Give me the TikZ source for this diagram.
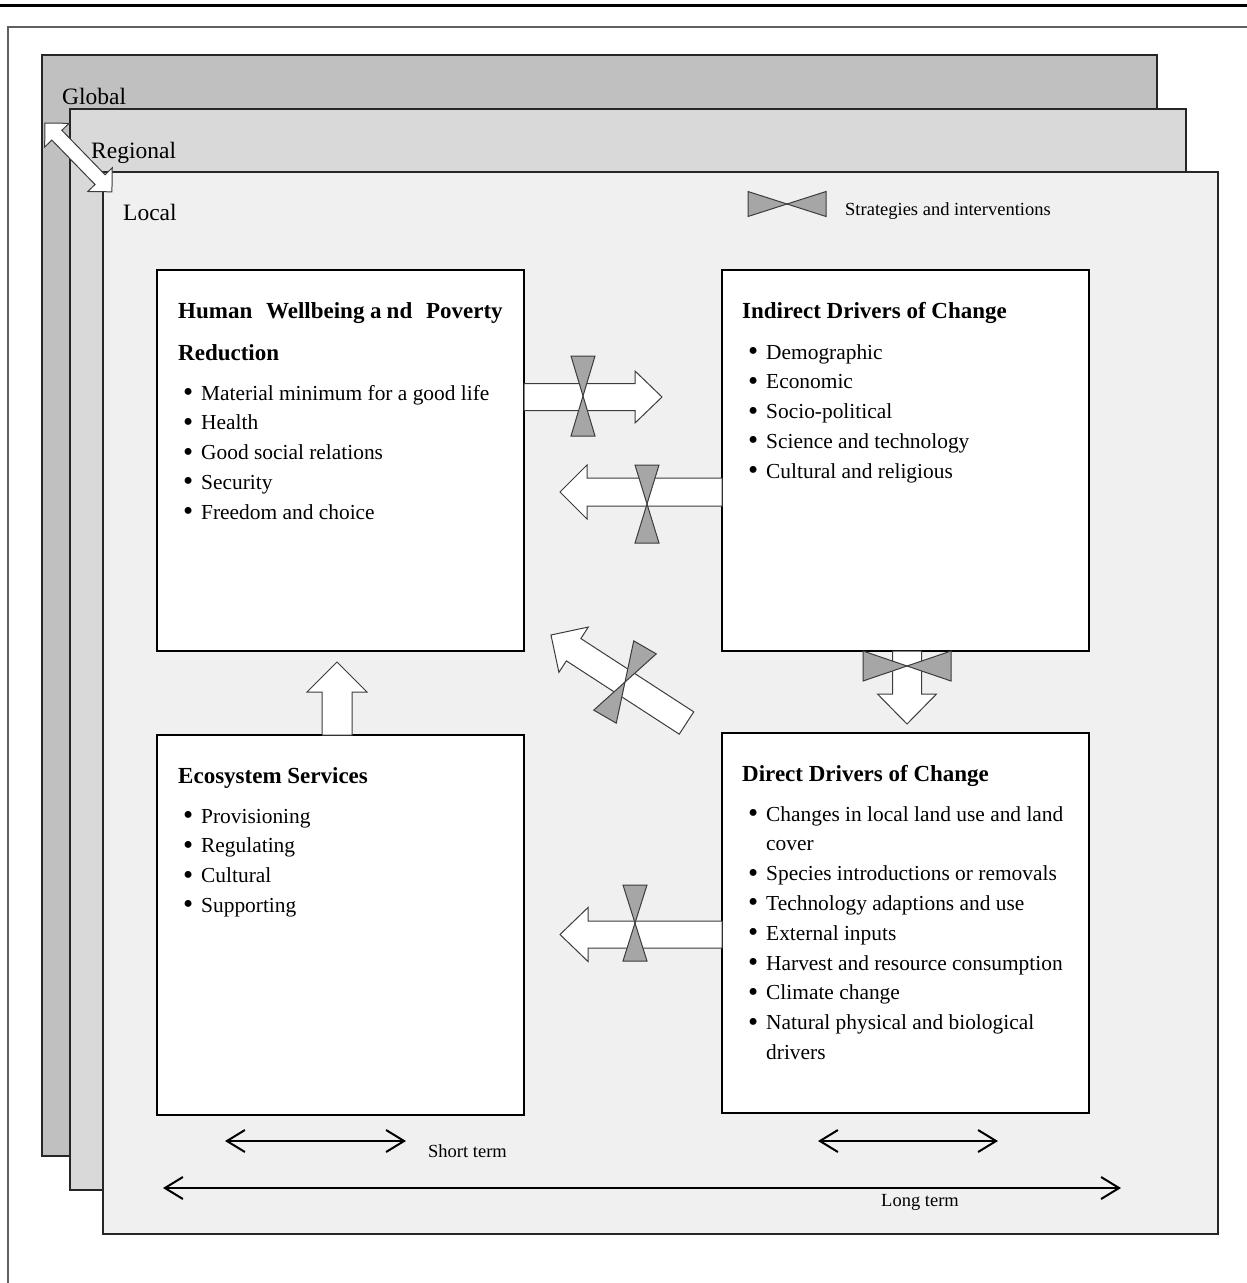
\documentclass[tikz,border=0pt]{standalone}
\usepackage{fontspec}
\usepackage{graphicx}
\setmainfont{Liberation Serif}
\usetikzlibrary{arrows.meta,calc}
\definecolor{globalfill}{RGB}{192,192,192}
\definecolor{regionalfill}{RGB}{217,217,217}
\definecolor{localfill}{RGB}{240,240,240}
\definecolor{tiefill}{RGB}{166,166,166}
\definecolor{framegray}{RGB}{96,96,96}
\definecolor{edgegray}{RGB}{60,60,60}
\newcommand\bodyfont{\fontsize{21.4}{29.8}\selectfont}
\newcommand\titlefont{\fontsize{23}{42}\selectfont\bfseries}
\newcommand\layerfont{\fontsize{23.5}{28}\selectfont}
\newcommand\smallfont{\fontsize{18.5}{22}\selectfont}
\newcommand\blt{\raisebox{-0.07em}{\scalebox{1.35}{\textbullet}}}
% block arrow: start, angle, length, shaft half width, head half width, head length
\newcommand\blockarrow[6]{%
  \begin{scope}[shift={#1},rotate=#2]
    \draw[blockarrowstyle] (0,-#4) -- ({#3-#6},-#4) -- ({#3-#6},-#5) -- (#3,0)
      -- ({#3-#6},#5) -- ({#3-#6},#4) -- (0,#4) -- cycle;
  \end{scope}}
% double block arrow
\newcommand\dblockarrow[6]{%
  \begin{scope}[shift={#1},rotate=#2]
    \draw[blockarrowstyle] (0,0) -- (#6,-#5) -- (#6,-#4) -- ({#3-#6},-#4) -- ({#3-#6},-#5)
      -- (#3,0) -- ({#3-#6},#5) -- ({#3-#6},#4) -- (#6,#4) -- (#6,#5) -- cycle;
  \end{scope}}
% strategies bow tie: centre, axis angle, half length, half base
\newcommand\stratbowtie[4]{%
  \begin{scope}[shift={#1},rotate=#2]
    \draw[tiestyle] (0,0) -- (#3,-#4) -- (#3,#4) -- cycle;
    \draw[tiestyle] (0,0) -- (-#3,-#4) -- (-#3,#4) -- cycle;
  \end{scope}}
\tikzset{
  blockarrowstyle/.style={draw=edgegray, fill=white, line width=1pt, line join=miter},
  tiestyle/.style={draw=edgegray, fill=tiefill, line width=1pt, line join=miter},
  layer/.style={draw=black!85, line width=1.3pt},
  box/.style={draw=black, line width=1.4pt, fill=white, inner sep=0pt, outer sep=0pt},
  titletext/.style={anchor=base west, inner sep=0pt, font=\titlefont},
  listtext/.style={anchor=base west, inner sep=0pt, font=\bodyfont},
  layertext/.style={anchor=base west, inner sep=0pt, font=\layerfont},
  smalltext/.style={inner sep=0pt, font=\smallfont},
  timearrow/.style={line width=2pt, {Straight Barb[length=18pt,width=22pt]}-{Straight Barb[length=18pt,width=22pt]}},
}
\begin{document}
\begin{tikzpicture}[x=1pt,y=-1pt]
\useasboundingbox (0,0) rectangle (1247,1283);
% page rules
\draw[line width=3pt] (0,5.5) -- (1247,5.5);
\draw[framegray, line width=2pt] (8,1283) -- (8,27) -- (1247,27);
% layers
\draw[layer, fill=globalfill] (42,55) rectangle (1157,1156);
\draw[layer, fill=regionalfill] (70,109) rectangle (1186,1190);
\draw[layer, fill=localfill] (103,172) rectangle (1218,1234);
\node[layertext] (lglobal) at (62,104) {Global};
\node[layertext] (lregional) at (91,158) {Regional};
\node[layertext] (llocal) at (123,220) {Local};
\coordinate (scaleA) at (45,123);
\dblockarrow{(scaleA)}{-45.8}{96}{7}{17}{17}
% legend
\stratbowtie{(787,204)}{0}{39}{12.5}
\node[smalltext, anchor=base west] (legend) at (845,215) {Strategies and interventions};
% boxes
\node[box, minimum width=367pt, minimum height=381pt] (hw) at (340.5,460.5) {};
\node[box, minimum width=367pt, minimum height=381pt] (ind) at (905.5,460.5) {};
\node[box, minimum width=367pt, minimum height=380pt] (es) at (340.5,925) {};
\node[box, minimum width=367pt, minimum height=380pt] (dd) at (905.5,923) {};
% block arrows
\blockarrow{($(hw.east)+(0,-63.5)$)}{0}{138}{13.5}{26}{27}
\stratbowtie{(583,396)}{90}{40}{12}
\blockarrow{($(ind.west)+(0,31.5)$)}{180}{162}{14}{27}{27}
\stratbowtie{(647,504)}{90}{39}{12}
\blockarrow{($(ind.south)+(1.5,0)$)}{-90}{73}{14.5}{29.5}{30}
\stratbowtie{(907,666)}{0}{44}{15}
\blockarrow{($(es.north)+(-3.5,0)$)}{90}{73}{15}{30}{30}
\blockarrow{($(dd.west)+(0,11.5)$)}{180}{162}{13.5}{27}{28}
\stratbowtie{(635,923)}{90}{38}{12}
\coordinate (diagtail) at (686.5,723);
\blockarrow{(diagtail)}{147}{161.6}{13.3}{27}{27}
\stratbowtie{(625,682)}{60}{40}{13}
% texts
\node[titletext] (hwt1) at (178,318) {Human\hspace{8pt} Wellbeing a\hspace{5pt}nd\hspace{8pt} Poverty};
\node[titletext] (hwt2) at (178,360) {Reduction};
\node[listtext] (hwl) at (183,400) {\begin{tabular}[t]{@{}p{18pt}@{}l@{}}
\blt & Material minimum for a good life\\
\blt & Health\\
\blt & Good social relations\\
\blt & Security\\
\blt & Freedom and choice
\end{tabular}};
\node[titletext] (indt) at (742,318) {Indirect Drivers of Change};
\node[listtext] (indl) at (748,359) {\begin{tabular}[t]{@{}p{18pt}@{}l@{}}
\blt & Demographic\\
\blt & Economic\\
\blt & Socio-political\\
\blt & Science and technology\\
\blt & Cultural and religious
\end{tabular}};
\node[titletext] (est) at (178,783) {Ecosystem Services};
\node[listtext] (esl) at (183,823) {\begin{tabular}[t]{@{}p{18pt}@{}l@{}}
\blt & Provisioning\\
\blt & Regulating\\
\blt & Cultural\\
\blt & Supporting
\end{tabular}};
\node[titletext] (ddt) at (742,781) {Direct Drivers of Change};
\node[listtext] (ddl) at (748,821) {\begin{tabular}[t]{@{}p{18pt}@{}l@{}}
\blt & Changes in local land use and land\\
 & cover\\
\blt & Species introductions or removals\\
\blt & Technology adaptions and use\\
\blt & External inputs\\
\blt & Harvest and resource consumption\\
\blt & Climate change\\
\blt & Natural physical and biological\\
 & drivers
\end{tabular}};
% time scale arrows
\coordinate (stA1) at (225,1141);
\coordinate (stA2) at (406,1141);
\coordinate (stB1) at (818,1141);
\coordinate (stB2) at (998,1141);
\coordinate (lt1) at (163,1188);
\coordinate (lt2) at (1121,1188);
\draw[timearrow] (stA1) -- (stA2);
\draw[timearrow] (stB1) -- (stB2);
\draw[timearrow] (lt1) -- (lt2);
\node[smalltext, anchor=base west] (short) at (428,1157) {Short term};
\node[smalltext, anchor=base] (long) at (920,1206) {Long term};
\end{tikzpicture}
\end{document}
